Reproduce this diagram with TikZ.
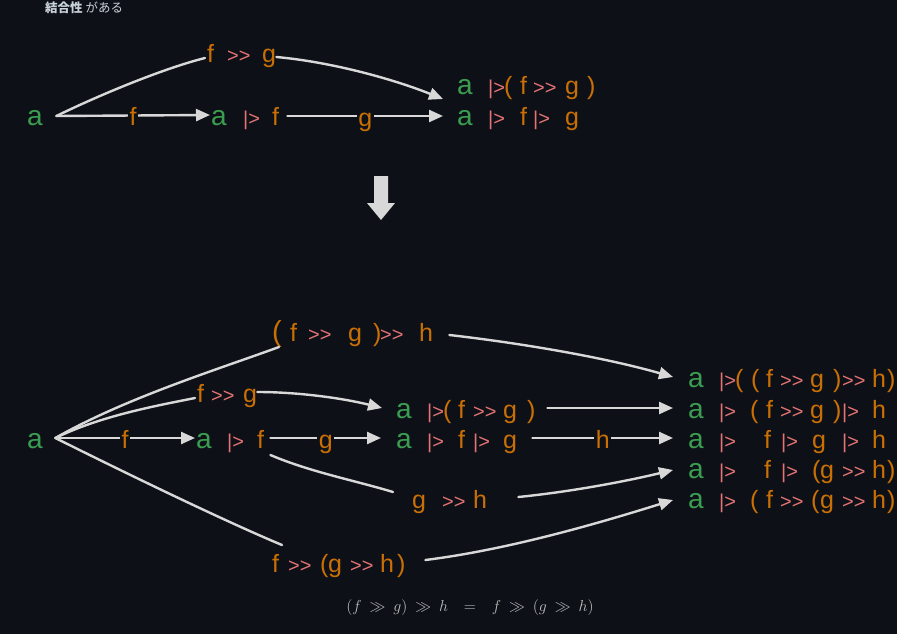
\documentclass[tikz,border=0pt]{standalone}
\usepackage{fontspec}
\setmainfont{Liberation Sans}
\newfontfamily\cjk{Noto Sans CJK JP}
\usetikzlibrary{arrows.meta}
\definecolor{bg}{HTML}{0D1117}
\definecolor{cgreen}{HTML}{3A9D50}
\definecolor{cred}{HTML}{E57373}
\definecolor{corange}{HTML}{C96F04}
\definecolor{cline}{HTML}{D8D8D8}
\definecolor{ctitle}{HTML}{C9D1D9}
\definecolor{cmath}{HTML}{BDBDBD}
\newcommand\tk[2]{\makebox[0pt][l]{\hspace*{#1pt}#2}}
\newcommand\tA{\textcolor{cgreen}{\fontsize{28}{30}\selectfont a}}
\newcommand\tF[1]{\textcolor{corange}{\fontsize{25}{28}\selectfont #1}}
\newcommand\tBig[1]{\textcolor{corange}{\fontsize{29}{30}\selectfont #1}}
\newcommand\tPipe{\textcolor{cred}{\fontsize{20}{24}\selectfont |>}}
\newcommand\tComp{\textcolor{cred}{\fontsize{20}{24}\selectfont >{}>}}
\tikzset{
 expr/.style={inner sep=0pt, text height=20pt, text depth=0pt, anchor=base west},
 lbl/.style={fill=bg, inner xsep=1.5pt, inner ysep=0pt, text height=20pt, text depth=0pt},
 link/.style={draw=cline, line width=2.4pt, line cap=round},
 conn/.style={link, -{Triangle[length=14pt,width=12pt]}},
}
\begin{document}
\begin{tikzpicture}[x=1pt,y=-1pt]
\fill[bg] (0,0) rectangle (897,634);
\useasboundingbox (0,0) rectangle (897,634);

% title
\node[anchor=base west, inner sep=0pt, text=ctitle] (title) at (45,13)
  {\cjk\fontsize{12.5}{14}\selectfont{\bfseries 結合性} がある};

% ---------- top part ----------
\node[expr] (a1) at (27,125) {\tk{0}{\tA}\hspace*{15pt}};
\node[expr] (af) at (211,125) {\tk{0}{\tA}\tk{32}{\tPipe}\tk{61}{\tF{f}}\hspace*{68pt}};
\node[expr] (fg) at (207,63) {\tk{0}{\tF{f}}\tk{20}{\tComp}\tk{55}{\tF{g}}\hspace*{69pt}};
\node[expr] (r1) at (457,95) {\tk{0}{\tA}\tk{31}{\tPipe}\tk{47}{\tF{(}}\tk{63}{\tF{f}}\tk{76}{\tComp}\tk{108}{\tF{g}}\tk{130}{\tF{)}}\hspace*{138pt}};
\node[expr] (r2) at (457,125) {\tk{0}{\tA}\tk{31}{\tPipe}\tk{63}{\tF{f}}\tk{76}{\tPipe}\tk{108}{\tF{g}}\hspace*{122pt}};

\draw[conn] ([shift={(14,1)}]a1.east) -- node[lbl]{\tF{f}} ([shift={(-1,0)}]af.west);
\draw[link] ([shift={(14,1)}]a1.east) .. controls +(45,-22) and +(-40,10) .. ([shift={(-2,5)}]fg.west);
\draw[conn] ([shift={(0,4)}]fg.east) .. controls +(55,5) and +(-50,-20) .. ([shift={(-14,14)}]r1.west);
\draw[conn] ([shift={(8,1)}]af.east) -- node[lbl]{\tF{g}} ([shift={(-14,1)}]r2.west);

% down arrow
\fill[cline] (374,176) -- (388,176) -- (388,203) -- (395,203) -- (381,220) -- (367,203) -- (374,203) -- cycle;

% ---------- bottom part ----------
\node[expr] (a2) at (27,448) {\tk{0}{\tA}\hspace*{15pt}};
\node[expr] (af2) at (196,448) {\tk{0}{\tA}\tk{31}{\tPipe}\tk{61}{\tF{f}}\hspace*{68pt}};
\node[expr] (fg2) at (197,402) {\tk{0}{\tF{f}}\tk{14}{\tComp}\tk{46}{\tF{g}}\hspace*{60pt}};
\node[expr] (fgh) at (272,341) {\tk{0}{\tBig{(}}\tk{18}{\tF{f}}\tk{36}{\tComp}\tk{76}{\tF{g}}\tk{101}{\tF{)}}\tk{108}{\tComp}\tk{147}{\tF{h}}\hspace*{161pt}};
\node[expr] (afg) at (396,418) {\tk{0}{\tA}\tk{31}{\tPipe}\tk{47}{\tF{(}}\tk{62}{\tF{f}}\tk{77}{\tComp}\tk{107}{\tF{g}}\tk{131}{\tF{)}}\hspace*{139pt}};
\node[expr] (afgg) at (396,448) {\tk{0}{\tA}\tk{31}{\tPipe}\tk{62}{\tF{f}}\tk{77}{\tPipe}\tk{107}{\tF{g}}\hspace*{121pt}};
\node[expr] (gh) at (412,508) {\tk{0}{\tF{g}}\tk{30}{\tComp}\tk{61}{\tF{h}}\hspace*{75pt}};
\node[expr] (fgh2) at (272,572) {\tk{0}{\tF{f}}\tk{16}{\tComp}\tk{48}{\tF{(}}\tk{56}{\tF{g}}\tk{78}{\tComp}\tk{108}{\tF{h}}\tk{125}{\tF{)}}\hspace*{133pt}};

\node[expr] (R1) at (688,387) {\tk{0}{\tA}\tk{31}{\tPipe}\tk{47}{\tF{(}}\tk{63}{\tF{(}}\tk{78}{\tF{f}}\tk{92}{\tComp}\tk{122}{\tF{g}}\tk{145}{\tF{)}}\tk{154}{\tComp}\tk{184}{\tF{h}}\tk{199}{\tF{)}}\hspace*{207pt}};
\node[expr] (R2) at (688,418) {\tk{0}{\tA}\tk{31}{\tPipe}\tk{62}{\tF{(}}\tk{78}{\tF{f}}\tk{92}{\tComp}\tk{122}{\tF{g}}\tk{145}{\tF{)}}\tk{154}{\tPipe}\tk{184}{\tF{h}}\hspace*{198pt}};
\node[expr] (R3) at (688,448) {\tk{0}{\tA}\tk{31}{\tPipe}\tk{76}{\tF{f}}\tk{93}{\tPipe}\tk{124}{\tF{g}}\tk{154}{\tPipe}\tk{184}{\tF{h}}\hspace*{198pt}};
\node[expr] (R4) at (688,478) {\tk{0}{\tA}\tk{31}{\tPipe}\tk{76}{\tF{f}}\tk{93}{\tPipe}\tk{124}{\tF{(}}\tk{132}{\tF{g}}\tk{154}{\tComp}\tk{184}{\tF{h}}\tk{199}{\tF{)}}\hspace*{207pt}};
\node[expr] (R5) at (688,508) {\tk{0}{\tA}\tk{31}{\tPipe}\tk{62}{\tF{(}}\tk{78}{\tF{f}}\tk{92}{\tComp}\tk{123}{\tF{(}}\tk{132}{\tF{g}}\tk{154}{\tComp}\tk{184}{\tF{h}}\tk{199}{\tF{)}}\hspace*{207pt}};

% connectors
\draw[conn] ([shift={(13,0)}]a2.east) -- node[lbl]{\tF{f}} ([shift={(-1,0)}]af2.west);
\draw[link] ([shift={(13,0)}]a2.east) .. controls +(45,-22) and +(-40,8) .. ([shift={(-2,6)}]fg2.west);
\draw[link] ([shift={(13,0)}]a2.east) .. controls +(70,-40) and +(-60,22) .. ([shift={(7,16)}]fgh.west);
\draw[link] ([shift={(13,0)}]a2.east) .. controls +(60,30) and +(-60,-25) .. ([shift={(10,-17)}]fgh2.west);

\draw[conn] ([shift={(16,4)}]fgh.east) .. controls +(70,8) and +(-70,-20) .. ([shift={(-15,0)}]R1.west);
\draw[conn] (fg2.east) .. controls +(40,0) and +(-40,-10) .. ([shift={(-14,0)}]afg.west);
\draw[conn] ([shift={(6,0)}]af2.east) -- node[lbl]{\tF{g}} ([shift={(-15,0)}]afgg.west);
\draw[link] ([shift={(6,17)}]af2.east) .. controls +(40,17) and +(-40,-12) .. ([shift={(-19,-6)}]gh.west);

\draw[conn] ([shift={(12,0)}]afg.east) -- ([shift={(-15,0)}]R2.west);
\draw[conn] ([shift={(15,0)}]afgg.east) -- node[lbl]{\tF{h}} ([shift={(-15,0)}]R3.west);
\draw[conn] ([shift={(31,-1)}]gh.east) .. controls +(50,-5) and +(-50,12) .. ([shift={(-15,2)}]R4.west);
\draw[conn] ([shift={(20,-2)}]fgh2.east) .. controls +(80,-10) and +(-80,25) .. ([shift={(-15,2)}]R5.west);

% formula
\node[text=cmath, inner sep=0pt] (law) at (470,608)
  {\scalebox{1.1}{\fontsize{14.4}{16}\selectfont$\thickmuskip=9mu (f \gg g) \gg h \;=\; f \gg (g \gg h)$}};
\end{tikzpicture}
\end{document}
